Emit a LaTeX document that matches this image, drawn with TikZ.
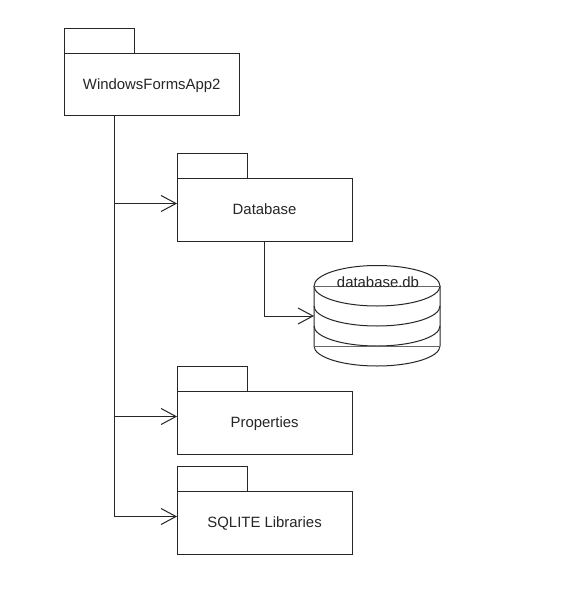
\documentclass[tikz,border=0pt]{standalone}
\usepackage{fontspec}
\setmainfont{Liberation Sans}
\usetikzlibrary{arrows.meta}
\tikzset{
  x=1pt,y=-1pt,
  pkgbox/.style={draw=black!85,line width=1pt,fill=white,outer sep=0pt,minimum width=175pt,minimum height=62.5pt,inner sep=0pt,text height=10pt,text depth=0pt,font=\fontsize{14.9}{17}\selectfont,text=black!85},
  pkgtab/.style={draw=black!85,line width=1pt,fill=white,outer sep=0pt,minimum width=70pt,minimum height=25pt,inner sep=0pt},
  wire/.style={draw=black!85,line width=1pt},
  opentip/.style={wire,-{Straight Barb[length=15pt,width=16pt,line width=1pt]}},
  dbline/.style={draw=black!85,line width=1pt},
  dbsep/.style={draw=black!60,line width=0.8pt},
}
\begin{document}
\begin{tikzpicture}
\useasboundingbox[fill=white] (0,0) rectangle (586,599);
% packages
\node[pkgbox] (app) at (151.7,84.75) {WindowsFormsApp2};
\node[pkgtab,anchor=south west] (apptab) at (app.north west) {};
\node[pkgbox] (db) at (264.6,209.75) {Database};
\node[pkgtab,anchor=south west] (dbtab) at (db.north west) {};
\node[pkgbox] (props) at (264.6,422.75) {Properties};
\node[pkgtab,anchor=south west] (propstab) at (props.north west) {};
\node[pkgbox] (sqlite) at (264.6,522.75) {SQLITE Libraries};
\node[pkgtab,anchor=south west] (sqlitetab) at (sqlite.north west) {};
% database cylinder
\coordinate (cylw) at (314,316);
\filldraw[dbline,fill=white] (314,286) -- (314,346) arc[start angle=180,end angle=360,x radius=63,y radius=-20] -- (440,286) arc[start angle=0,end angle=180,x radius=63,y radius=-20.5] -- cycle;
\draw[dbline] (314,286) arc[start angle=180,end angle=360,x radius=63,y radius=-20];
\draw[dbline] (314,306) arc[start angle=180,end angle=360,x radius=63,y radius=-20];
\draw[dbline] (314,326) arc[start angle=180,end angle=360,x radius=63,y radius=-20];
\draw[dbsep] (314,286) -- (440,286);
\draw[dbsep] (314,346) -- (440,346);
\node[font=\fontsize{14.9}{17}\selectfont,text=black!85,inner sep=0pt,text height=10pt,text depth=0pt] (dbfile) at (378,282) {database.db};
% connectors
\coordinate (trunk) at (114.5,116);
\coordinate (dbin) at ([yshift=-25pt]db.north west);
\coordinate (propsin) at ([yshift=-25pt]props.north west);
\coordinate (sqlitein) at ([yshift=-25pt]sqlite.north west);
\draw[wire] (trunk) -- (trunk |- sqlitein);
\draw[opentip] (trunk |- dbin) -- (dbin);
\draw[opentip] (trunk |- propsin) -- (propsin);
\draw[opentip] (trunk |- sqlitein) -- (sqlitein);
\draw[opentip] (db.south) |- (cylw);
\end{tikzpicture}
\end{document}
